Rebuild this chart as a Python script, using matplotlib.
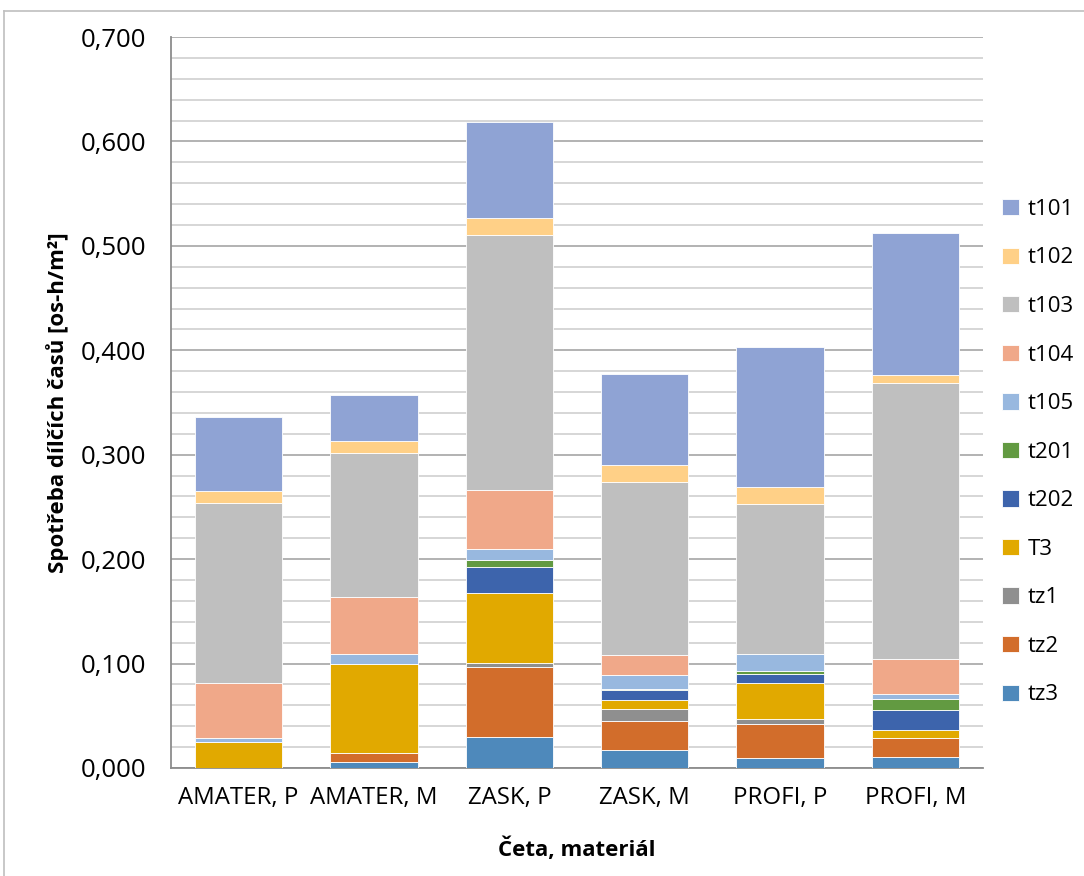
import matplotlib
matplotlib.use("Agg")
import matplotlib.pyplot as plt
from matplotlib.lines import Line2D
from matplotlib.ticker import MultipleLocator, FuncFormatter
import numpy as np

plt.rcParams['font.family'] = ['Open Sans', 'DejaVu Sans']

categories = ["AMATER, P", "AMATER, M", "ZASK, P", "ZASK, M", "PROFI, P", "PROFI, M"]

# Partial time consumption per component [os-h/m2], stacked bottom to top
tz3  = [0.000, 0.006, 0.030, 0.0170, 0.0100, 0.0110]
tz2  = [0.000, 0.008, 0.067, 0.0280, 0.0320, 0.0175]
tz1  = [0.000, 0.000, 0.004, 0.0115, 0.0050, 0.0000]
T3   = [0.025, 0.086, 0.067, 0.0086, 0.0345, 0.0077]
t202 = [0.000, 0.000, 0.024, 0.0093, 0.0083, 0.0198]
t201 = [0.000, 0.000, 0.007, 0.0016, 0.0029, 0.0096]
t105 = [0.004, 0.009, 0.011, 0.0130, 0.0166, 0.0054]
t104 = [0.052, 0.055, 0.056, 0.0195, 0.0000, 0.0332]
t103 = [0.173, 0.138, 0.244, 0.1650, 0.1433, 0.2646]
t102 = [0.011, 0.011, 0.017, 0.0163, 0.0166, 0.0076]
t101 = [0.071, 0.044, 0.092, 0.0875, 0.1343, 0.1357]

series = [
    ("tz3", tz3, "#4E89BB"),
    ("tz2", tz2, "#D26D2B"),
    ("tz1", tz1, "#8F8F8F"),
    ("T3", T3, "#E1A900"),
    ("t202", t202, "#3D64AC"),
    ("t201", t201, "#629A41"),
    ("t105", t105, "#98B8DF"),
    ("t104", t104, "#F0A889"),
    ("t103", t103, "#BFBFBF"),
    ("t102", t102, "#FFD087"),
    ("t101", t101, "#8FA3D4"),
]

W, H = 1084, 876
fig = plt.figure(figsize=(W / 100, H / 100), dpi=100)
ax = fig.add_axes([171 / W, 1 - 768 / H, (983 - 171) / W, (768 - 37) / H])

x = np.arange(len(categories))
bottom = np.zeros(len(categories))
handles = []
for name, vals, color in series:
    vals = np.array(vals)
    b = ax.bar(x, vals, width=0.645, bottom=bottom, color=color,
               edgecolor="white", linewidth=0.6, label=name, zorder=3)
    handles.append(b)
    bottom += vals

ax.set_xlim(-0.5, len(categories) - 0.5)
ax.set_ylim(0, 0.7)
ax.yaxis.set_major_locator(MultipleLocator(0.1))
ax.yaxis.set_minor_locator(MultipleLocator(0.02))
ax.yaxis.set_major_formatter(FuncFormatter(lambda v, p: f"{v:.3f}".replace(".", ",")))
ax.grid(axis="y", which="major", color="#A6A6A6", linewidth=1.2, zorder=0)
ax.grid(axis="y", which="minor", color="#D0D0D0", linewidth=1.2, zorder=0)
ax.set_axisbelow(True)

for side in ("top", "right"):
    ax.spines[side].set_visible(False)
for side in ("left", "bottom"):
    ax.spines[side].set_color("#8C8C8C")
    ax.spines[side].set_linewidth(1.3)

ax.tick_params(axis="both", which="both", length=0, colors="black")
ax.tick_params(axis="y", labelsize=18.5, pad=18)
ax.tick_params(axis="x", labelsize=17.3, pad=13)
ax.set_xticks(x)
ax.set_xticklabels(categories)

ax.set_ylabel("Spotřeba dílčích časů [os-h/m²]", fontsize=16, fontweight="bold", labelpad=8)
ax.set_xlabel("Četa, materiál", fontsize=16, fontweight="bold", labelpad=20)

leg = fig.legend(handles[::-1], [s[0] for s in series][::-1],
                 loc="upper left", bbox_to_anchor=(993 / W, 1 - 190 / H),
                 frameon=False, fontsize=16, labelspacing=1.24,
                 handlelength=0.75, handleheight=0.75, handletextpad=0.4,
                 borderaxespad=0)

# chart area border
fig.add_artist(Line2D([4 / W, 1], [1 - 11 / H, 1 - 11 / H], color="#BFBFBF", linewidth=1.2))
fig.add_artist(Line2D([4 / W, 4 / W], [0, 1 - 11 / H], color="#BFBFBF", linewidth=1.2))

fig.savefig("out.png", dpi=100)
